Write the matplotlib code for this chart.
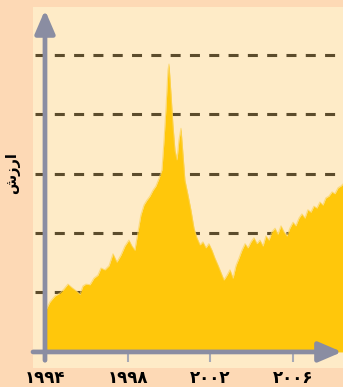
import matplotlib
matplotlib.use("Agg")
import matplotlib.pyplot as plt
from matplotlib.patches import FancyArrowPatch, ArrowStyle

plt.rcParams['font.family'] = ['DejaVu Sans']
plt.rcParams['lines.scale_dashes'] = False

# Index value over time
years = [1994.05, 1994.24, 1994.48, 1994.73, 1994.92, 1995.11, 1995.31, 1995.50,
         1995.69, 1995.84, 1995.98, 1996.18, 1996.37, 1996.56, 1996.71, 1996.90,
         1997.10, 1997.29, 1997.48, 1997.68, 1997.87, 1998.06, 1998.21, 1998.35,
         1998.50, 1998.64, 1998.79, 1998.93, 1999.08, 1999.23, 1999.37, 1999.52,
         1999.66, 1999.76, 1999.85, 1999.95, 2000.00, 2000.10, 2000.19, 2000.29,
         2000.39, 2000.48, 2000.58, 2000.68, 2000.77, 2000.92, 2001.06, 2001.21,
         2001.35, 2001.50, 2001.64, 2001.79, 2001.93, 2002.08, 2002.22, 2002.37,
         2002.51, 2002.66, 2002.81, 2002.95, 2003.10, 2003.24, 2003.39, 2003.53,
         2003.68, 2003.82, 2003.97, 2004.11, 2004.26, 2004.40, 2004.55, 2004.69,
         2004.84, 2004.98, 2005.13, 2005.27, 2005.42, 2005.56, 2005.71, 2005.85,
         2006.00, 2006.14, 2006.29, 2006.43, 2006.58, 2006.72, 2006.87, 2007.01,
         2007.16, 2007.30, 2007.45, 2007.59, 2007.74, 2007.89, 2008.03, 2008.18,
         2008.32, 2008.47]
values = [0.71, 0.84, 0.94, 0.99, 1.06, 1.14, 1.08, 1.03,
          0.97, 1.11, 1.14, 1.13, 1.24, 1.29, 1.41, 1.38,
          1.45, 1.65, 1.51, 1.63, 1.78, 1.88, 1.78, 1.71,
          2.02, 2.30, 2.47, 2.55, 2.62, 2.72, 2.79, 2.92,
          3.06, 3.56, 4.07, 4.74, 4.84, 4.32, 3.82, 3.39,
          3.23, 3.56, 3.76, 3.31, 2.89, 2.64, 2.39, 2.08,
          1.92, 1.80, 1.85, 1.75, 1.82, 1.71, 1.58, 1.46,
          1.34, 1.21, 1.29, 1.38, 1.24, 1.45, 1.58, 1.71,
          1.82, 1.75, 1.85, 1.92, 1.82, 1.88, 1.78, 1.95,
          1.88, 2.02, 2.08, 1.98, 2.12, 2.02, 1.95, 2.08,
          2.18, 2.12, 2.25, 2.32, 2.25, 2.39, 2.35, 2.45,
          2.42, 2.52, 2.47, 2.59, 2.62, 2.69, 2.66, 2.76,
          2.79, 2.84]

tick_years = [1994, 1998, 2002, 2006]
tick_labels = ['۱۹۹۴', '۱۹۹۸', '۲۰۰۲', '۲۰۰۶']
grid_levels = [1, 2, 3, 4, 5]
y_label = 'شزرا'  # "ارزش" laid out right-to-left

outer_bg = '#FDD9B5'
panel_bg = '#FEEBC7'
fill_col = '#FFC70B'
axis_col = '#8A8DA2'
dash_col = '#5C4C2C'

W, H = 343, 387
fig = plt.figure(figsize=(W / 100, H / 100), dpi=100, facecolor=outer_bg)
ax = fig.add_axes([33 / W, (H - 368) / H, 310 / W, (368 - 7) / H])
ax.set_facecolor(panel_bg)
for s in ax.spines.values():
    s.set_visible(False)
ax.set_xticks([])
ax.set_yticks([])

x_left, x_right = 1993.42, 2008.42
y_bottom, y_top = -0.27, 5.80
ax.set_xlim(x_left, x_right)
ax.set_ylim(y_bottom, y_top)

# dashed reference levels
for lv in grid_levels:
    ax.plot([1993.52, x_right], [lv, lv], color=dash_col, lw=2.2,
            dashes=(7.2, 6.7), solid_capstyle='butt', dash_capstyle='butt',
            zorder=2)

# value area
ax.fill_between(years, values, 0, color=fill_col, lw=0, zorder=3)
ax.plot(years, values, color='#FCD45C', lw=0.8, alpha=0.7, zorder=3)

# x tick marks
ax.vlines(tick_years, -0.17, 0, color='#A7A9B5', lw=1.5, zorder=4)

# axes with arrow heads
arrow_style = ArrowStyle('-|>', head_length=1.4, head_width=0.6)
ax.add_patch(FancyArrowPatch((1994, -0.14), (1994, 5.75), arrowstyle=arrow_style,
                             mutation_scale=10, color=axis_col, lw=3.4,
                             shrinkA=0, shrinkB=0, zorder=5, clip_on=False))
ax.add_patch(FancyArrowPatch((x_left, 0), (x_right - 0.05, 0), arrowstyle=arrow_style,
                             mutation_scale=10, color=axis_col, lw=3.4,
                             shrinkA=0, shrinkB=0, zorder=5, clip_on=False))

for yr, lab in zip(tick_years, tick_labels):
    ax.text(yr, -0.44, lab, ha='center', va='center', fontsize=12,
            fontweight='bold', color='black', clip_on=False)

fig.text(13 / W, 1 - 173 / H, y_label, rotation=90, ha='center', va='center',
         fontsize=10.5, fontweight='bold', color='black')

fig.savefig('out.png', dpi=100, facecolor=outer_bg)
